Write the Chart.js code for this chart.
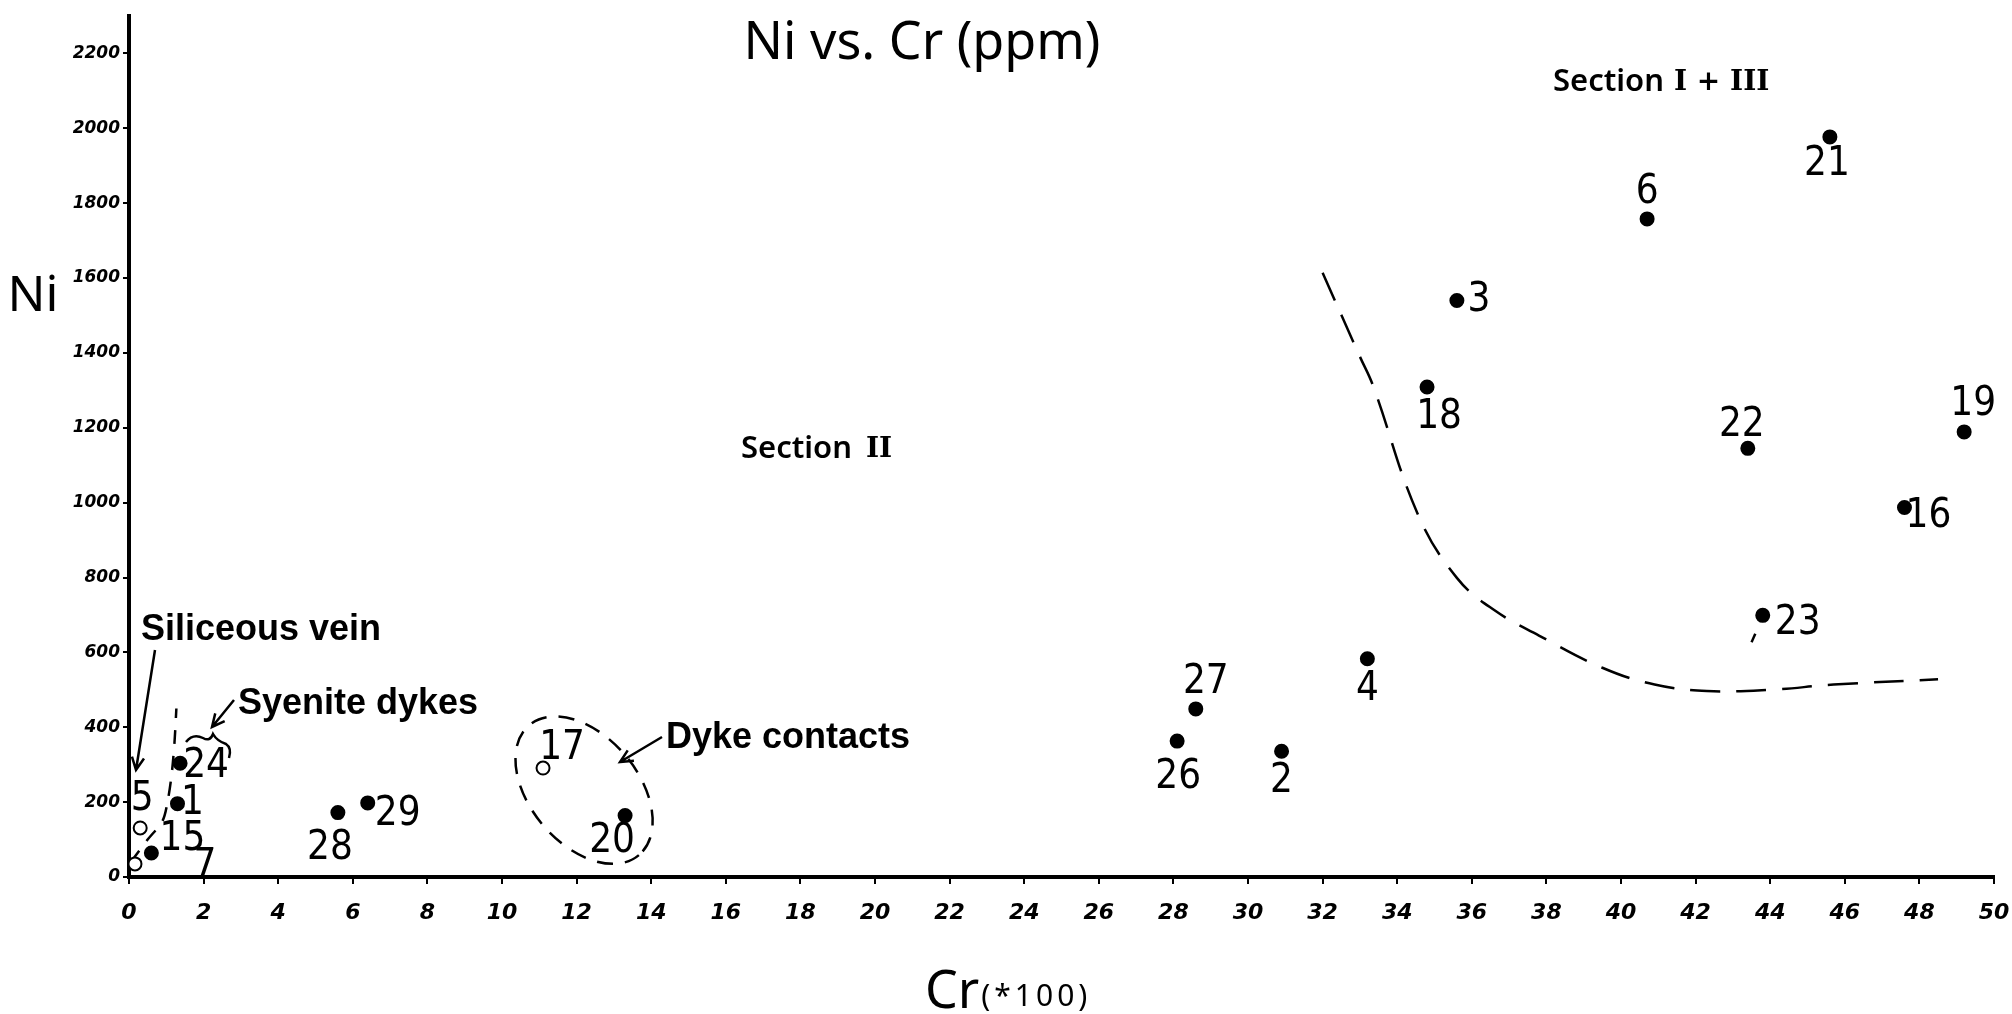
<!DOCTYPE html>
<html>
<head>
<meta charset="utf-8">
<title>Ni vs. Cr (ppm)</title>
<script src="https://cdn.jsdelivr.net/npm/chart.js@4/dist/chart.umd.min.js"></script>
<style>
  html, body { margin: 0; padding: 0; background: #fff; }
  #wrap { width: 2012px; height: 1014px; position: relative; }
</style>
</head>
<body>
<div id="wrap"><canvas id="chart"></canvas></div>
<script>
// sample numbers written next to the dots
const sampleIds = ['21', '6', '3', '18', '22', '19', '16', '23', '4', '27', '26', '2', '17', '20', '29', '28', '24', '1', '15', '5', '7'];
// Cr in hundreds of ppm, Ni in ppm
const crValues = [45.6, 40.7, 35.6, 34.8, 43.4, 49.2, 47.6, 43.8, 33.2, 28.6, 28.1, 30.9, 11.1, 13.3, 6.4, 5.6, 1.37, 1.3, 0.6, 0.3, 0.16];
const niValues = [1977, 1758, 1540, 1309, 1145, 1189, 987, 699, 583, 449, 363, 336, 291, 164, 198, 172, 304, 196, 64, 131, 35];
// samples drawn as open circles
const hollowIds = ['17', '5', '7'];

// dashed boundary between Section II and Section I + III
const boundaryCr = [32.0, 33.0, 33.35, 34.55, 35.6, 36.6, 37.8, 39.5, 40.9, 42.3, 44.0, 45.7, 48.5];
const boundaryNi = [1614, 1390, 1313, 970, 799, 713, 645, 559, 514, 497, 500, 514, 528];
// dashed line through the low Cr samples
const veinCr = [0.05, 0.5, 0.9, 1.05, 1.15, 1.22, 1.27];
const veinNi = [40, 100, 150, 210, 280, 360, 450];
// short stroke under sample 23
const stubCr = [43.5, 43.6];
const stubNi = [627, 650];

const xTicks = [0, 2, 4, 6, 8, 10, 12, 14, 16, 18, 20, 22, 24, 26, 28, 30, 32, 34, 36, 38, 40, 42, 44, 46, 48, 50];
const yTicks = [0, 200, 400, 600, 800, 1000, 1200, 1400, 1600, 1800, 2000, 2200];

// where each number sits relative to its dot (px)
const labelOffsets = [
  [-3, 28], [0, -26], [22, 0], [12, 31], [-6, -23], [9, -27], [24, 9], [35, 8],
  [0, 31], [10, -26], [1, 36], [0, 30], [19, -19], [-13, 26], [30, 12], [-8, 36],
  [26, 3], [15, 0], [31, -13], [2, -28], [70, 3]
];

const NUM_FONT = '40px "DejaVu Sans Condensed", "Liberation Sans Narrow", "Liberation Sans", sans-serif';
const BOLD_FONT = 'bold 36px "Liberation Sans", Arial, sans-serif';
const THIN_FONT = '"Noto Sans", "Liberation Sans", sans-serif';
const ROMAN_FONT = 'bold 28px "DejaVu Serif", "Liberation Serif", serif';

const toXY = (xs, ys) => xs.map((x, i) => ({ x, y: ys[i] }));

const drawArrow = (ctx, x1, y1, x2, y2) => {
  const ang = Math.atan2(y2 - y1, x2 - x1);
  ctx.beginPath();
  ctx.moveTo(x1, y1);
  ctx.lineTo(x2, y2);
  ctx.moveTo(x2 - 14 * Math.cos(ang - 0.45), y2 - 14 * Math.sin(ang - 0.45));
  ctx.lineTo(x2, y2);
  ctx.lineTo(x2 - 14 * Math.cos(ang + 0.45), y2 - 14 * Math.sin(ang + 0.45));
  ctx.stroke();
};

const drawSection = (ctx, x, y, roman, gap) => {
  ctx.font = '600 31px ' + THIN_FONT;
  ctx.fillText('Section', x, y);
  const w = ctx.measureText('Section').width;
  ctx.font = ROMAN_FONT;
  ctx.fillText(roman, x + w + gap, y + 1);
};

const notesPlugin = {
  id: 'notes',
  afterDatasetsDraw(chart) {
    const { ctx, scales } = chart;
    const meta = chart.getDatasetMeta(0);

    ctx.save();
    ctx.fillStyle = '#000';
    ctx.strokeStyle = '#000';

    // sample numbers
    ctx.font = NUM_FONT;
    ctx.textAlign = 'center';
    ctx.textBaseline = 'middle';
    meta.data.forEach((pt, i) => {
      const [dx, dy] = labelOffsets[i];
      ctx.fillText(sampleIds[i], pt.x + dx, pt.y + dy);
    });

    // titles
    ctx.font = '52px ' + THIN_FONT;
    ctx.fillText('Ni vs. Cr (ppm)', 922, 44);
    ctx.font = '50px ' + THIN_FONT;
    ctx.fillText('Ni', 33, 297);

    ctx.textAlign = 'left';
    ctx.textBaseline = 'alphabetic';
    ctx.font = '52px ' + THIN_FONT;
    ctx.fillText('Cr', 925, 1008);
    const crW = ctx.measureText('Cr').width;
    ctx.font = '30px ' + THIN_FONT;
    ctx.letterSpacing = '4px';
    ctx.fillText('(*100)', 925 + crW + 2, 1006);
    ctx.letterSpacing = '0px';

    // section labels
    ctx.textBaseline = 'middle';
    drawSection(ctx, 741, 449, 'II', 14);
    drawSection(ctx, 1553, 82, 'I + III', 10);

    // bold notes with arrows
    ctx.font = BOLD_FONT;
    ctx.fillText('Siliceous vein', 141, 630);
    ctx.fillText('Syenite dykes', 238, 704);
    ctx.fillText('Dyke contacts', 666, 738);

    ctx.lineWidth = 2.5;
    drawArrow(ctx, 155, 650, 136, 770);
    drawArrow(ctx, 234, 700, 212, 727);
    drawArrow(ctx, 662, 737, 620, 762);

    // brace over the syenite dykes
    ctx.beginPath();
    ctx.moveTo(186, 742);
    ctx.quadraticCurveTo(193, 733, 203, 738);
    ctx.quadraticCurveTo(210, 742, 213, 734);
    ctx.quadraticCurveTo(217, 741, 226, 744);
    ctx.quadraticCurveTo(232, 748, 229, 758);
    ctx.stroke();

    // dashed ring round the dyke contacts
    const cx = scales.x.getPixelForValue(12.2);
    const cy = scales.y.getPixelForValue(232);
    ctx.setLineDash([16, 12]);
    ctx.beginPath();
    ctx.ellipse(cx, cy, 85, 54, 0.87, 0, Math.PI * 2);
    ctx.stroke();
    ctx.restore();
  }
};

const tickFont = (size) => ({
  family: '"DejaVu Sans", sans-serif',
  size,
  style: 'italic',
  weight: 'bold'
});

new Chart(document.getElementById('chart'), {
  type: 'scatter',
  data: {
    datasets: [
      {
        label: 'Samples',
        data: toXY(crValues, niValues),
        pointRadius: 6.5,
        pointBorderWidth: 2,
        pointBorderColor: '#000',
        pointBackgroundColor: sampleIds.map((id) => (hollowIds.includes(id) ? '#fff' : '#000'))
      },
      {
        type: 'line',
        label: 'Boundary',
        data: toXY(boundaryCr, boundaryNi),
        borderColor: '#000',
        borderWidth: 2.5,
        borderDash: [30, 16],
        tension: 0.4,
        pointRadius: 0,
        fill: false
      },
      {
        type: 'line',
        label: 'Vein trend',
        data: toXY(veinCr, veinNi),
        borderColor: '#000',
        borderWidth: 2.5,
        borderDash: [14, 12],
        tension: 0.3,
        pointRadius: 0,
        fill: false
      },
      {
        type: 'line',
        label: 'Stub',
        data: toXY(stubCr, stubNi),
        borderColor: '#000',
        borderWidth: 2.5,
        pointRadius: 0,
        fill: false
      }
    ]
  },
  options: {
    responsive: true,
    maintainAspectRatio: false,
    animation: false,
    layout: { padding: { top: 16, right: 18, left: 0, bottom: 0 } },
    plugins: {
      legend: { display: false },
      tooltip: { enabled: false }
    },
    scales: {
      x: {
        type: 'linear',
        min: 0,
        max: 50,
        afterBuildTicks: (scale) => { scale.ticks = xTicks.map((value) => ({ value })); },
        afterFit: (scale) => {
          scale.height = 137;
          scale.paddingLeft = 0;
          scale.paddingRight = 0;
        },
        border: { color: '#000', width: 4 },
        grid: { drawOnChartArea: false, color: '#000', lineWidth: 2, tickLength: 7 },
        ticks: { color: '#000', font: tickFont(22), padding: 16, maxRotation: 0, autoSkip: false }
      },
      y: {
        type: 'linear',
        min: 0,
        max: 2300,
        afterBuildTicks: (scale) => { scale.ticks = yTicks.map((value) => ({ value })); },
        afterFit: (scale) => { scale.width = 129; },
        border: { color: '#000', width: 4 },
        grid: { drawOnChartArea: false, color: '#000', lineWidth: 2, tickLength: 6 },
        ticks: { color: '#000', font: tickFont(17), padding: 3, autoSkip: false, callback: (v) => String(v) }
      }
    }
  },
  plugins: [notesPlugin]
});
</script>
</body>
</html>
